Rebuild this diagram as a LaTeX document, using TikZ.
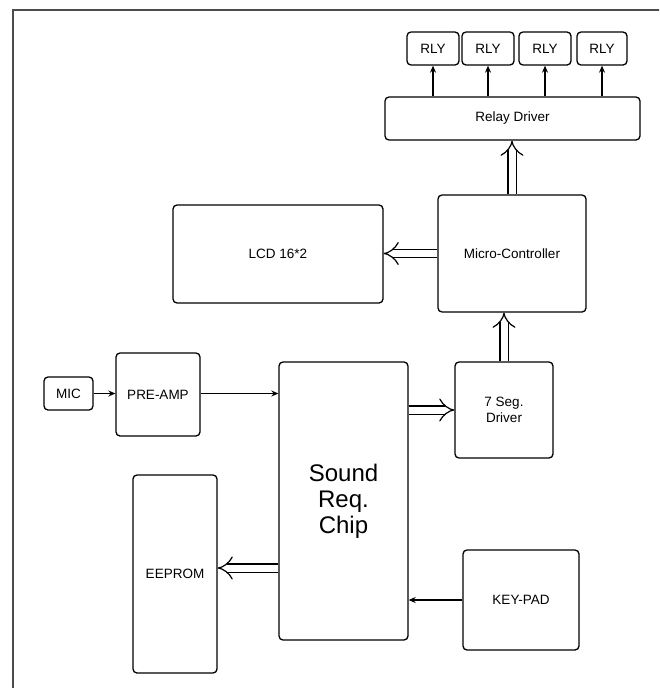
\documentclass[tikz,border=0pt]{standalone}
\usepackage{fontspec}
\setmainfont{Liberation Sans}
\usetikzlibrary{arrows.meta}
\begin{document}
\begin{tikzpicture}[x=1pt,y=-1pt,
  box/.style={draw=black, line width=1.3pt, rounded corners=4pt, inner sep=0pt,
    font=\fontsize{13.5}{16}\selectfont, align=center},
  sarrow/.style={line width=1.3pt, -{Stealth[length=7pt,width=6pt]}},
  dbl/.style={double, line width=1.2pt, double distance=7pt, -{Implies}}]
\useasboundingbox (0,0) rectangle (659,688);
\clip (0,0) rectangle (659,688);
\draw[line width=2pt, color=black!70] (13,720) -- (13,9.5) -- (720,9.5);

% relays
\node[box, minimum width=52pt, minimum height=33pt] (r1) at (433,48.5) {RLY};
\node[box, minimum width=52pt, minimum height=33pt] (r2) at (488,48.5) {RLY};
\node[box, minimum width=52pt, minimum height=33pt] (r3) at (545,48.5) {RLY};
\node[box, minimum width=50pt, minimum height=33pt] (r4) at (602,48.5) {RLY};
\node[box, minimum width=255pt, minimum height=43pt] (rd) at (512.5,118.5) {Relay Driver};
\node[box, minimum width=148pt, minimum height=117pt] (mc) at (512,253.5) {Micro-Controller};
\node[box, minimum width=210pt, minimum height=98pt] (lcd) at (278,254) {LCD 16*2};
\node[box, minimum width=49pt, minimum height=33pt] (mic) at (68.5,393.5) {MIC};
\node[box, minimum width=84pt, minimum height=83pt] (pre) at (158,394.5) {PRE-AMP};
\node[box, minimum width=129pt, minimum height=278pt, font=\fontsize{24}{26}\selectfont] (chip) at (343.5,501) {Sound\\Req.\\Chip};
\node[box, minimum width=98pt, minimum height=96pt] (seg) at (504,410) {7 Seg.\\Driver};
\node[box, minimum width=84pt, minimum height=198pt] (ee) at (175,574) {EEPROM};
\node[box, minimum width=116pt, minimum height=100pt] (kp) at (521,600) {KEY-PAD};

% connectors
\foreach \r in {r1,r2,r3,r4}
  \draw[sarrow] (\r.south |- rd.north) -- (\r.south);
\draw[dbl] (mc.north) -- (rd.south -| mc.north);
\draw[dbl] (mc.west) -- (lcd.east |- mc.west);
\draw[dbl] (seg.north) -- (mc.south -| seg.north);
\draw[dbl] (chip.east |- seg.west) -- (seg.west);
\coordinate (eeA) at ([yshift=6pt]ee.east);
\draw[dbl] (eeA -| chip.west) -- (eeA);
\draw[sarrow] (mic.east) -- (pre.west |- mic.east);
\draw[sarrow] (pre.east |- mic.east) -- (chip.west |- mic.east);
\draw[sarrow] (kp.west) -- (kp.west -| chip.east);
\end{tikzpicture}
\end{document}
